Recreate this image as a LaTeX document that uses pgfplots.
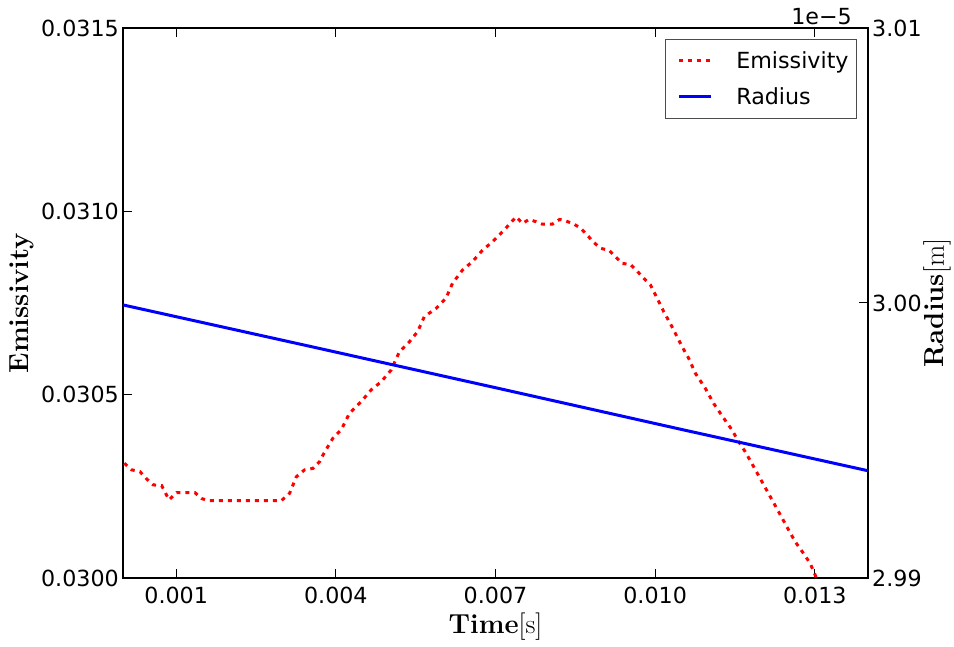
\documentclass[border=0pt]{standalone}
\usepackage{fontspec}
\setmainfont{DejaVu Sans}
\newfontfamily\lmfont{Latin Modern Roman}
\usepackage{pgfplots}
\pgfplotsset{compat=1.18}

\pgfplotstableread{
x y
0.000024 0.030313
0.000163 0.030295
0.000319 0.030290
0.000431 0.030272
0.000568 0.030254
0.000726 0.030252
0.000819 0.030226
0.000868 0.030213
0.001007 0.030233
0.001350 0.030233
0.001476 0.030217
0.001600 0.030211
0.002976 0.030211
0.003131 0.030231
0.003257 0.030276
0.003413 0.030295
0.003568 0.030299
0.003694 0.030317
0.003756 0.030335
0.003943 0.030381
0.004101 0.030404
0.004256 0.030449
0.004476 0.030481
0.004663 0.030513
0.004851 0.030535
0.005038 0.030567
0.005194 0.030617
0.005381 0.030644
0.005537 0.030672
0.005663 0.030713
0.005882 0.030735
0.006069 0.030763
0.006193 0.030804
0.006381 0.030840
0.006568 0.030863
0.006756 0.030894
0.006943 0.030917
0.007131 0.030944
0.007388 0.030985
0.007506 0.030967
0.007631 0.030978
0.007757 0.030972
0.007881 0.030965
0.008068 0.030965
0.008207 0.030978
0.008319 0.030974
0.008475 0.030965
0.008601 0.030954
0.008724 0.030935
0.008850 0.030915
0.008976 0.030899
0.009131 0.030894
0.009257 0.030876
0.009381 0.030858
0.009538 0.030855
0.009662 0.030837
0.009788 0.030817
0.009913 0.030799
0.010069 0.030754
0.010163 0.030726
0.010318 0.030685
0.010506 0.030631
0.010631 0.030599
0.010757 0.030558
0.010944 0.030517
0.011100 0.030476
0.011288 0.030436
0.011443 0.030404
0.011569 0.030372
0.011694 0.030344
0.011850 0.030304
0.012006 0.030263
0.012163 0.030222
0.012319 0.030181
0.012474 0.030140
0.012632 0.030099
0.012788 0.030067
0.012913 0.030040
0.013007 0.030008
0.013106 0.029980
}\emis

\pgfplotstableread{
x r
0.0000 2.99993
0.0035 2.99843
0.0070 2.99692
0.0105 2.99540
0.0140 2.99390
}\radius

\begin{document}
\begin{tikzpicture}[x=1pt,y=1pt,font=\fontsize{22.2}{26}\selectfont]
\useasboundingbox (-123,-68) rectangle (831,578);
\pgfplotsset{
  common/.style={
    at={(0,0)}, anchor=south west,
    scale only axis, width=745pt, height=550pt,
    xmin=0, xmax=0.014,
    tick align=inside, major tick length=9pt,
    tick style={line width=1pt, black},
    axis line style={line width=1.2pt},
    scaled ticks=false,
  },
}
\begin{axis}[common,
  ymin=0.03, ymax=0.0315,
  xtick={0.001,0.004,0.007,0.010,0.013},
  ytick={0.0300,0.0305,0.0310,0.0315},
  ytick pos=left,
  xticklabel style={inner sep=0pt, yshift=-9pt,
    /pgf/number format/.cd, fixed, fixed zerofill, precision=3, assume math mode=true},
  yticklabel style={inner sep=0pt, xshift=-4pt,
    /pgf/number format/.cd, fixed, fixed zerofill, precision=4, assume math mode=true},
  xlabel={\lmfont\fontsize{27.5}{30}\selectfont\textbf{Time}[s]},
  ylabel={\lmfont\fontsize{27.5}{30}\selectfont\textbf{Emissivity}},
  xlabel style={at={(axis description cs:0.5,-0.089)}, anchor=center},
  ylabel style={at={(axis description cs:-0.1356,0.5)}, anchor=center},
]
\addplot[red, line width=3pt, dash pattern=on 4pt off 5pt] table[x=x,y=y] {\emis};
\end{axis}
\begin{axis}[common,
  clip mode=individual,
  ymin=2.99, ymax=3.01,
  axis x line=none, axis y line*=right,
  ytick={2.99,3.00,3.01},
  yticklabel style={inner sep=0pt, xshift=4pt,
    /pgf/number format/.cd, fixed, fixed zerofill, precision=2, assume math mode=true},
  ylabel={\lmfont\fontsize{27.5}{30}\selectfont\textbf{Radius}[m]},
  ylabel style={at={(axis description cs:1.0926,0.5)}, anchor=center},
  legend style={at={(axis description cs:0.9852,0.98)}, anchor=north east,
    draw=black!70, line width=0.8pt, fill=white,
    inner xsep=4pt, inner ysep=3pt, column sep=20pt,
    nodes={inner xsep=4pt, inner ysep=9pt}},
  legend cell align=left,
  legend image code/.code={\path (0pt,0pt); \draw[#1] (8pt,0pt) -- (40pt,0pt);},
]
\addlegendimage{red, line width=3pt, dash pattern=on 4pt off 5pt}
\addlegendentry{Emissivity}
\addplot[blue, line width=3pt] table[x=x,y=r] {\radius};
\addlegendentry{Radius}
\node[anchor=base east, inner sep=0pt] at (axis description cs:0.9785,1.007) {1e−5};
\end{axis}
\end{tikzpicture}
\end{document}
